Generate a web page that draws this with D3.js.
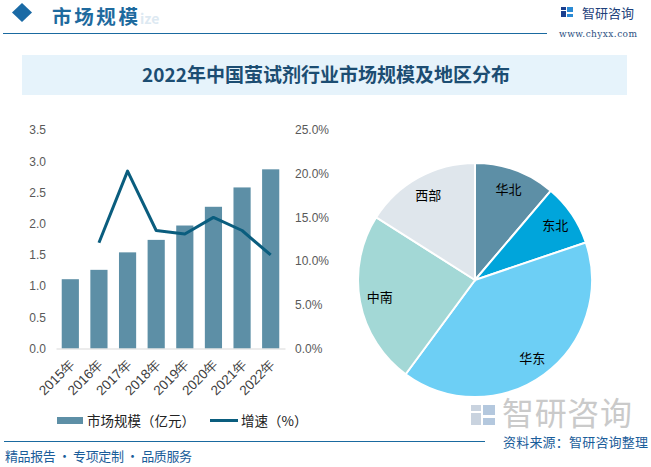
<!DOCTYPE html>
<html><head><meta charset="utf-8">
<script src="https://cdn.jsdelivr.net/npm/d3@7"></script>
<style>
body{margin:0;background:#fff;}
svg{display:block;font-family:"Noto Sans CJK SC","Noto Sans",sans-serif;}
</style></head>
<body>
<svg id="c" width="651" height="467"></svg>
<script>
const years = ["2015年","2016年","2017年","2018年","2019年","2020年","2021年","2022年"];
const marketSize = [1.11, 1.26, 1.54, 1.74, 1.97, 2.27, 2.58, 2.87];
const growth = [null, 12.1, 20.3, 13.5, 13.1, 15.0, 13.5, 10.7];
const leftTicks = [0, 0.5, 1.0, 1.5, 2.0, 2.5, 3.0, 3.5];
const rightTicks = [0, 5, 10, 15, 20, 25];
const regions = ["华北","东北","华东","中南","西部"];
const regionShare = [11.2, 8.6, 40.3, 23.9, 16.0];
const regionColors = ["#5d8fa6","#00a5db","#6dcff5","#a3d8d6","#dfe6ec"];

const svg = d3.select("#c");

// header
svg.append("path").attr("d","M22,3 L32,12.5 L22,22 L12,12.5 Z").attr("fill","#1a6aa5");
svg.append("text").attr("x",140).attr("y",24).attr("font-size",14).attr("font-weight","bold")
  .attr("fill","#dde9f2").text("ize");
svg.append("text").attr("x",52).attr("y",23.5).attr("font-size",19.5).attr("font-weight","bold")
  .attr("fill","#1e6a9e").attr("textLength",86).text("市场规模");
svg.append("line").attr("x1",3).attr("x2",547).attr("y1",33.5).attr("y2",33.5)
  .attr("stroke","#1a6aa0").attr("stroke-width",1.2);
// logo top right
const lg = svg.append("g").attr("transform","translate(561,7)");
lg.append("rect").attr("x",0).attr("y",0).attr("width",5).attr("height",3).attr("fill","#1a3f8f");
lg.append("rect").attr("x",0).attr("y",4).attr("width",5).attr("height",6).attr("fill","#1a3f8f");
lg.append("rect").attr("x",6).attr("y",0).attr("width",6).attr("height",5).attr("fill","#2a8ad4");
lg.append("rect").attr("x",6).attr("y",7).attr("width",6).attr("height",3).attr("fill","#2a8ad4");
svg.append("text").attr("x",582).attr("y",18).attr("font-size",13).attr("fill","#1d3f7a")
  .attr("textLength",52).text("智研咨询");
svg.append("text").attr("x",559).attr("y",37).attr("font-size",9).attr("fill","#2b4f7f")
  .attr("font-family","DejaVu Serif, serif").attr("textLength",78).text("www.chyxx.com");

// title box
svg.append("rect").attr("x",22).attr("y",55).attr("width",605).attr("height",40).attr("fill","#e6f3fb");
svg.append("text").attr("x",326).attr("y",82).attr("text-anchor","middle").attr("font-size",19)
  .attr("font-weight","bold").attr("fill","#1c4d72").text("2022年中国萤试剂行业市场规模及地区分布");

// combo chart
const x = d3.scaleBand().domain(years).range([56,285]).paddingInner(0.4).paddingOuter(0.2);
const yL = d3.scaleLinear().domain([0,3.5]).range([348.5,130]);
const yR = d3.scaleLinear().domain([0,25]).range([348.5,130]);

const axL = svg.append("g").attr("transform","translate(46,0)")
  .call(d3.axisLeft(yL).tickValues(leftTicks).tickFormat(d3.format(".1f")).tickSize(0).tickPadding(0));
axL.select(".domain").remove();
axL.selectAll("text").attr("font-size",12).attr("fill","#595959").attr("font-family","Liberation Sans, Arial, sans-serif");

const axR = svg.append("g").attr("transform","translate(295,0)")
  .call(d3.axisRight(yR).tickValues(rightTicks).tickFormat(d=>d3.format(".1f")(d)+"%").tickSize(0).tickPadding(0));
axR.select(".domain").remove();
axR.selectAll("text").attr("font-size",12).attr("fill","#595959").attr("font-family","Liberation Sans, Arial, sans-serif");

svg.selectAll("rect.bar").data(marketSize).join("rect").attr("class","bar")
  .attr("x",(d,i)=>x(years[i])).attr("width",x.bandwidth())
  .attr("y",d=>yL(d)).attr("height",d=>yL(0)-yL(d)).attr("fill","#5d8fa6");

const axB = svg.append("g").attr("transform",`translate(0,${yL(0)})`)
  .call(d3.axisBottom(x).tickSize(0).tickPadding(0));
axB.select(".domain").attr("stroke","#d9d9d9");
axB.selectAll("text").attr("font-size",13.5).attr("fill","#404040")
  .attr("font-family","Liberation Sans, Arial, sans-serif")
  .attr("text-anchor","end").attr("transform","translate(2,13) rotate(-45)").attr("dy","0.35em");

const line = d3.line().defined(d=>d!=null).x((d,i)=>x(years[i])+x.bandwidth()/2).y(d=>yR(d));
svg.append("path").datum(growth).attr("d",line).attr("fill","none")
  .attr("stroke","#0a5d7e").attr("stroke-width",3).attr("stroke-linejoin","round");

// legend
svg.append("rect").attr("x",57).attr("y",417).attr("width",26).attr("height",7).attr("fill","#5d8fa6");
svg.append("text").attr("x",87).attr("y",426).attr("font-size",13.5).attr("fill","#222")
  .text("市场规模（亿元）");
svg.append("line").attr("x1",210).attr("x2",238).attr("y1",420.5).attr("y2",420.5)
  .attr("stroke","#0a5d7e").attr("stroke-width",3);
svg.append("text").attr("x",241).attr("y",426).attr("font-size",13.5).attr("fill","#222")
  .text("增速（%）");

// pie
const cx = 475, cy = 280, R = 117;
const pie = d3.pie().sort(null).value(d=>d)(regionShare);
const arc = d3.arc().innerRadius(0).outerRadius(R);
const labelArc = d3.arc().innerRadius(97).outerRadius(97);
const pg = svg.append("g").attr("transform",`translate(${cx},${cy})`);
pg.selectAll("path").data(pie).join("path").attr("d",arc)
  .attr("fill",(d,i)=>regionColors[i]).attr("stroke","#fff").attr("stroke-width",2);
pg.selectAll("text").data(pie).join("text")
  .attr("transform",d=>`translate(${labelArc.centroid(d)})`)
  .attr("text-anchor","middle").attr("dy","0.35em").attr("font-size",13).attr("fill","#000")
  .text((d,i)=>regions[i]);

// footer
svg.append("text").attr("x",502).attr("y",425).attr("font-size",32).attr("fill","#cacaca")
  .attr("textLength",130).text("智研咨询");
const fl = svg.append("g").attr("transform","translate(471,405)");
fl.append("rect").attr("x",0).attr("y",0).attr("width",10).attr("height",6).attr("fill","#c9d3df");
fl.append("rect").attr("x",0).attr("y",8).attr("width",10).attr("height",12).attr("fill","#c9d3df");
fl.append("rect").attr("x",12).attr("y",0).attr("width",12).attr("height",10).attr("fill","#b4c8de");
fl.append("rect").attr("x",12).attr("y",13).attr("width",12).attr("height",7).attr("fill","#b4c8de");
svg.append("line").attr("x1",4).attr("x2",485).attr("y1",441.5).attr("y2",441.5)
  .attr("stroke","#1a6aa0").attr("stroke-width",1.2);
svg.append("text").attr("x",503).attr("y",447).attr("font-size",13)
  .attr("fill","#1a5d9a").attr("textLength",145).text("资料来源：智研咨询整理");
svg.append("text").attr("x",5).attr("y",461).attr("font-size",13)
  .attr("fill","#1a5d9a").attr("textLength",187).text("精品报告 · 专项定制 · 品质服务");
</script>
</body></html>
